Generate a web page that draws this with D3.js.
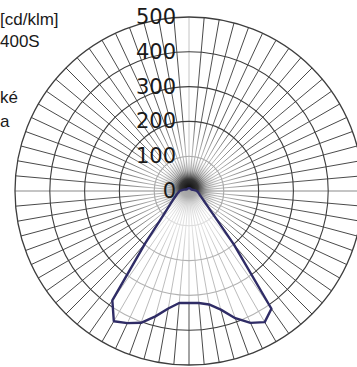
<!DOCTYPE html>
<html><head><meta charset="utf-8">
<script src="https://cdn.jsdelivr.net/npm/d3@7"></script>
<style>html,body{margin:0;padding:0;background:#fff;overflow:hidden}</style>
</head><body>
<svg id="c" width="357" height="367"></svg>
<script>
// ---- data (luminous intensity, cd/klm) ----
const gammaDeg = [0,5,10,15,20,25,30,35,40,45,50,55,60,65,70,75,80,85,90,95,100,105,110,115,120,125,130,135,140,145,150,155,160,165,170,175,180];
const rightPlane = [322,323,331,353,389,418,435,413,201,106,72,55,45,38,33,30,27,25,22,18,15,12,10,9,8,8,8,8,8,8,8,8,8,8,8,8,8];
const leftPlane  = [322,323,343,373,403,419,432,384,194,115,83,65,54,46,40,36,32,29,27,22,18,15,12,10,9,8,8,8,8,8,8,8,8,8,8,8,8];
const ringValues = [100,200,300,400,500];
const tickLabels = ["0","100","200","300","400","500"];
const tickValues = [0,100,200,300,400,500];
const headerLines = ["[cd/klm]","400S","ké","a"];

const W = 357, H = 367, cx = 189, cy = 191;
const svg = d3.select("#c");
const r = d3.scaleLinear().domain([0,500]).range([0,174]);
const g = svg.append("g").attr("transform", `translate(${cx},${cy})`);

const defs = svg.append("defs");
const rg = defs.append("radialGradient").attr("id","spokeGrad")
  .attr("gradientUnits","userSpaceOnUse").attr("cx",0).attr("cy",0).attr("r",r(500));
[[0,"#a8a8a8"],[0.22,"#b4b4b4"],[0.42,"#606060"],[1,"#444"]].forEach(([o,c])=>rg.append("stop").attr("offset",o).attr("stop-color",c));
const blob = defs.append("radialGradient").attr("id","blob");
[[0,"#0d0d0d",1],[0.3,"#2a2a2a",0.92],[0.6,"#888",0.45],[1,"#ccc",0]].forEach(([o,c,a])=>blob.append("stop").attr("offset",o).attr("stop-color",c).attr("stop-opacity",a));

// spokes every 5 deg
const spokes = d3.range(0,360,5);
g.selectAll("line.spoke").data(spokes).join("line")
  .attr("x1",0).attr("y1",0)
  .attr("x2",d=>r(500)*Math.sin(d*Math.PI/180))
  .attr("y2",d=>-r(500)*Math.cos(d*Math.PI/180))
  .attr("stroke",d=> (d%90===0 && d!==180) ? "#c4c4c4" : "url(#spokeGrad)")
  .attr("stroke-width",d=> (d===90||d===270) ? 2 : 1);

// rings
g.selectAll("circle.ring").data(ringValues).join("circle")
  .attr("r",d=>r(d)).attr("fill","none")
  .attr("stroke",d=> d===100 ? "#a8a8a8" : "#3e3e3e")
  .attr("stroke-width",d=> d===500 ? 1.3 : 1.1);

// center blob
g.append("circle").attr("cx",0).attr("cy",-3).attr("r",30).attr("fill","url(#blob)");

// curve
const pts = [];
gammaDeg.forEach((gd,i)=>pts.push([Math.PI - gd*Math.PI/180, r(rightPlane[i])]));
for (let i=gammaDeg.length-1;i>=0;i--) pts.push([Math.PI + gammaDeg[i]*Math.PI/180, r(leftPlane[i])]);
const line = d3.lineRadial().angle(d=>d[0]).radius(d=>d[1]).curve(d3.curveLinearClosed);
g.append("path").attr("d",line(pts)).attr("fill","#fff").attr("fill-opacity",0.6)
  .attr("stroke","#2f2c66").attr("stroke-width",2.4).attr("stroke-linejoin","round");

// radial tick labels
svg.selectAll("text.tick").data(tickValues).join("text")
  .attr("x",176).attr("y",d=>cy - r(d))
  .attr("text-anchor","end").attr("dominant-baseline","central")
  .attr("font-family","DejaVu Sans, sans-serif").attr("font-size",21)
  .attr("fill","#1a1a1a")
  .text((d,i)=>tickLabels[i]);

// header text
const hy = [25,47,103,127];
svg.selectAll("text.hdr").data(headerLines).join("text")
  .attr("x",0).attr("y",(d,i)=>hy[i])
  .attr("text-anchor","start")
  .attr("font-family","Liberation Sans, Arial, sans-serif").attr("font-size",17)
  .attr("fill","#1a1a1a").text(d=>d);
</script>
</body></html>
